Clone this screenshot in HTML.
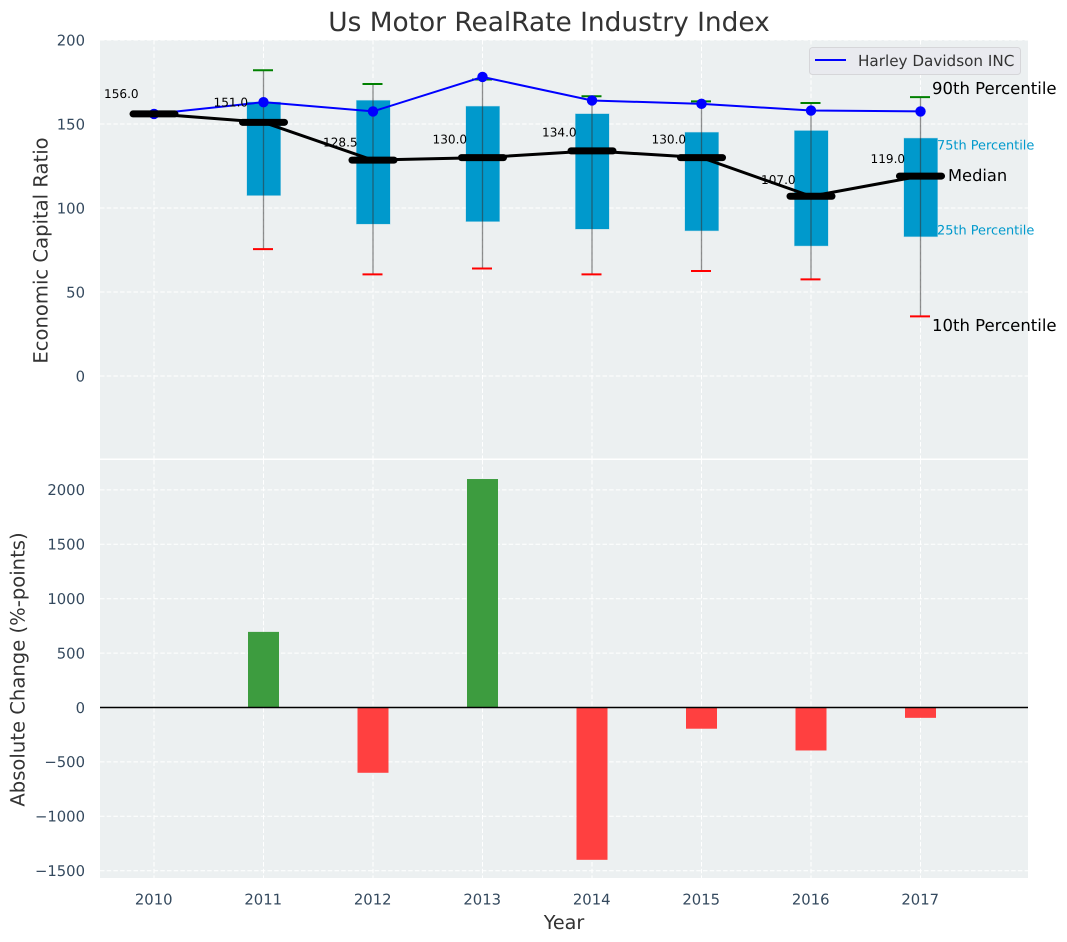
<!DOCTYPE html>
<html lang="en">
<head>
<meta charset="utf-8">
<title>Us Motor RealRate Industry Index</title>
<style>
html,body{margin:0;padding:0;background:#fff;}
svg{display:block;font-family:"DejaVu Sans","Liberation Sans",sans-serif;text-rendering:geometricPrecision;}
</style>
</head>
<body>
<svg id="chart" xmlns="http://www.w3.org/2000/svg" width="1067" height="942" viewBox="0 0 1067 942">
  <rect x="0" y="0" width="1067" height="942" fill="#ffffff"/>
  <rect x="100" y="40" width="928" height="418.500" fill="#ecf0f1"/>
  <rect x="100" y="460" width="928" height="418" fill="#ecf0f1"/>
  <g id="grid"></g>
  <g id="boxes"></g>
  <g id="whiskers"></g>
  <g id="bars"></g>
  <line x1="100" x2="1028" y1="707.5" y2="707.5" stroke="#000000" stroke-width="1.4"/>
  <g id="company"></g>
  <g id="median"></g>
  <g id="ticks"></g>
  <text x="549" y="31" text-anchor="middle" font-size="26.4" fill="#333333">Us Motor RealRate Industry Index</text>
  <text transform="translate(47.500,250.500) rotate(-90)" text-anchor="middle" font-size="19.6" fill="#333333">Economic Capital Ratio</text>
  <text transform="translate(24.500,669.500) rotate(-90)" text-anchor="middle" font-size="19.6" fill="#333333">Absolute Change (%-points)</text>
  <text x="564" y="929" text-anchor="middle" font-size="19.2" fill="#333333">Year</text>
  <g>
    <rect x="809.5" y="47.5" width="211" height="27" rx="3" fill="#e9eaef" stroke="#d6d6d9"/>
    <line x1="815" x2="846" y1="60" y2="60" stroke="#0000ff" stroke-width="2"/>
    <text x="858" y="66" font-size="15.2" fill="#333333">Harley Davidson INC</text>
  </g>
  <g>
    <text x="932" y="94" font-size="16.5" fill="#000000">90th Percentile</text>
    <text x="937" y="149.500" font-size="12.9" fill="#0099cc">75th Percentile</text>
    <text x="948" y="181" font-size="16.3" fill="#000000">Median</text>
    <text x="937" y="234.500" font-size="12.9" fill="#0099cc">25th Percentile</text>
    <text x="932" y="331" font-size="16.5" fill="#000000">10th Percentile</text>
  </g>
</svg>
<script>
var years = [2010, 2011, 2012, 2013, 2014, 2015, 2016, 2017];
var p90 = [156, 182, 173.8, 176.5, 166.5, 163.5, 162.5, 166];
var p75 = [156, 163, 164, 160.5, 156, 145, 146, 141.5];
var medians = [156, 151, 128.5, 130, 134, 130, 107, 119];
var p25 = [156, 107.5, 90.5, 92, 87.5, 86.5, 77.5, 83];
var p10 = [156, 75.5, 60.5, 64, 60.5, 62.5, 57.5, 35.5];
var company = [156, 163, 157.5, 178, 164, 162, 158, 157.5];
var changes = [0, 695, -600, 2100, -1400, -195, -395, -95];
var topTicks = [0, 50, 100, 150, 200];
var bottomTicks = [-1500, -1000, -500, 0, 500, 1000, 1500, 2000];

var NS = 'http://www.w3.org/2000/svg';
function xPos(v) { return 154 + (v - 2010) * 109.5; }
function yTop(v) { return 376 - v * 1.68; }
function yBottom(v) { return 707.5 - v * 0.1088; }
function make(parent, tag, props) {
  var el = document.createElementNS(NS, tag);
  for (var k in props) { el.setAttribute(k, props[k]); }
  document.getElementById(parent).appendChild(el);
  return el;
}
var dash = '4.5 2.2';
years.forEach(function (yr) {
  var a = make('grid', 'line', {x1: xPos(yr), x2: xPos(yr), y1: 40, y2: 458.5, stroke: '#ffffff', 'stroke-width': 1, 'stroke-dasharray': dash});
  
  
  var b = make('grid', 'line', {x1: xPos(yr), x2: xPos(yr), y1: 460, y2: 878, stroke: '#ffffff', 'stroke-width': 1, 'stroke-dasharray': dash});
  
  
  var t = make('ticks', 'text', {x: xPos(yr) - 0.3, y: 904.5, 'text-anchor': 'middle', 'font-size': 14.8, fill: '#34495e'});
  t.textContent = yr;
  
  
});
topTicks.forEach(function (v) {
  var g = make('grid', 'line', {x1: 100, x2: 1028, y1: yTop(v), y2: yTop(v), stroke: '#ffffff', 'stroke-width': 1, 'stroke-dasharray': dash});
  
  
  var t = make('ticks', 'text', {x: 85, y: yTop(v) + 5.3, 'text-anchor': 'end', 'font-size': 14.8, fill: '#34495e'});
  t.textContent = v;
  
  
});
bottomTicks.forEach(function (v) {
  var g = make('grid', 'line', {x1: 100, x2: 1028, y1: yBottom(v), y2: yBottom(v), stroke: '#ffffff', 'stroke-width': 1, 'stroke-dasharray': dash});
  
  
  var t = make('ticks', 'text', {x: 85, y: yBottom(v) + 5.3, 'text-anchor': 'end', 'font-size': 14.8, fill: '#34495e'});
  t.textContent = String(v).replace('-', '\u2212');
  
  
});
years.forEach(function (yr, i) {
  var cx = xPos(yr);
  var box = make('boxes', 'rect', {x: cx - 16.5, y: yTop(p75[i]), width: 33.5, height: yTop(p25[i]) - yTop(p75[i]), fill: '#0099cc', stroke: '#0099cc', 'stroke-opacity': 0.25, 'stroke-width': 1});
  
  
  var w = make('whiskers', 'line', {x1: cx, x2: cx, y1: yTop(p90[i]), y2: yTop(p10[i]), stroke: '#333333', 'stroke-opacity': 0.55, 'stroke-width': 1.3});
  
  
  var hi = make('whiskers', 'line', {x1: cx - 10.5, x2: cx + 9.5, y1: yTop(p90[i]), y2: yTop(p90[i]), stroke: '#008000', 'stroke-width': 2});
  
  
  var lo = make('whiskers', 'line', {x1: cx - 10.5, x2: cx + 9.5, y1: yTop(p10[i]), y2: yTop(p10[i]), stroke: '#ff0000', 'stroke-width': 2});
  
  
  if (changes[i] !== 0) {
    var top = Math.min(yBottom(changes[i]), yBottom(0));
    var bar = make('bars', 'rect', {x: cx - 15.5, y: top, width: 31, height: Math.abs(yBottom(changes[i]) - yBottom(0)), fill: changes[i] > 0 ? '#3d9c3f' : '#ff4040'});
    
    
  }
});
var companyPts = years.map(function (yr, i) { return xPos(yr) + ',' + yTop(company[i]); }).join(' ');
var cLine = make('company', 'polyline', {points: companyPts, fill: 'none', stroke: '#0000ff', 'stroke-width': 2});


years.forEach(function (yr, i) {
  var m = make('company', 'circle', {cx: xPos(yr), cy: yTop(company[i]), r: 5.2, fill: '#0000ff'});
  
  
});
var medianPts = years.map(function (yr, i) { return xPos(yr) + ',' + yTop(medians[i]); }).join(' ');
var mLine = make('median', 'polyline', {points: medianPts, fill: 'none', stroke: '#000000', 'stroke-width': 3});


years.forEach(function (yr, i) {
  var cx = xPos(yr);
  var s = make('median', 'line', {x1: cx - 21, x2: cx + 21, y1: yTop(medians[i]), y2: yTop(medians[i]), stroke: '#000000', 'stroke-width': 7, 'stroke-linecap': 'round'});
  
  
  var t = make('median', 'text', {x: cx - 50, y: yTop(medians[i]) - 3.3 - 0.082 * medians[i], 'font-size': 12.1, fill: '#000000'});
  t.textContent = medians[i].toFixed(1);
  
  
});
</script>
</body>
</html>
